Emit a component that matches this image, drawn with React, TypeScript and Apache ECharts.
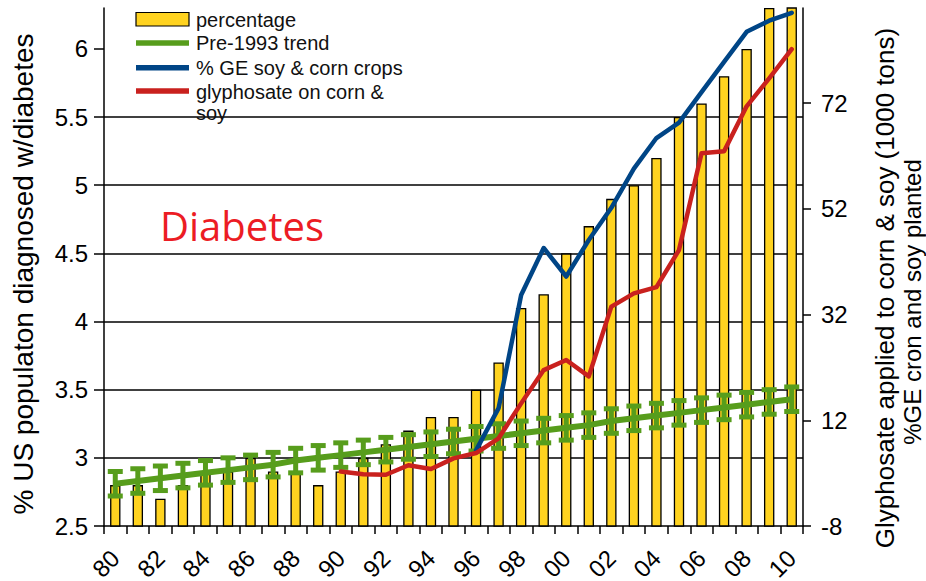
import React, { useEffect, useRef } from 'react';
import * as echarts from 'echarts';

const years = [
  '1980', '1981', '1982', '1983', '1984', '1985', '1986', '1987', '1988', '1989',
  '1990', '1991', '1992', '1993', '1994', '1995', '1996', '1997', '1998', '1999',
  '2000', '2001', '2002', '2003', '2004', '2005', '2006', '2007', '2008', '2009', '2010',
];

// % US population diagnosed with diabetes (left axis)
const diabetesPct = [
  2.8, 2.8, 2.7, 2.8, 2.9, 2.9, 3.0, 2.9, 2.9, 2.8,
  2.9, 3.0, 3.1, 3.2, 3.3, 3.3, 3.5, 3.7, 4.1, 4.2,
  4.5, 4.7, 4.9, 5.0, 5.2, 5.5, 5.6, 5.8, 6.0, 6.3, 6.5,
];

// Pre-1993 trend (left axis) and its error half-width
const trendPct = [
  2.81, 2.83, 2.85, 2.87, 2.89, 2.91, 2.93, 2.95, 2.98, 3.0,
  3.02, 3.04, 3.06, 3.08, 3.1, 3.12, 3.14, 3.16, 3.18, 3.2,
  3.22, 3.24, 3.27, 3.29, 3.31, 3.33, 3.35, 3.37, 3.39, 3.41, 3.43,
];
const trendErr = 0.09;

// % GE soy & corn crops (right axis), from 1996
const geStartYear = 1996;
const gePct = [6.3, 14.3, 35.7, 44.6, 39.2, 46.1, 52.2, 59.6, 65.4, 68.3, 74.1, 79.8, 85.5, 87.6, 89.1];

// glyphosate on corn & soy, 1000 tons (right axis), from 1990
const glyStartYear = 1990;
const glyphosate = [2.3, 1.8, 1.7, 3.5, 2.8, 4.8, 5.8, 8.6, 15.2, 21.5, 23.4, 20.3, 33.5, 36.0, 37.2, 44.2, 62.5, 62.9, 71.4, 76.7, 82.2];

const leftTicks = [2.5, 3, 3.5, 4, 4.5, 5, 5.5, 6];
const rightTicks = [-8, 12, 32, 52, 72];

const FONT = 'Liberation Sans, Arial, sans-serif';
const YELLOW = '#ffd320';
const GREEN = '#579d1c';
const BLUE = '#004586';
const RED = '#c9211e';

function alignFrom(start: number, vals: number[]) {
  return years.map((y) => {
    const k = Number(y) - start;
    return k >= 0 && k < vals.length ? vals[k] : null;
  });
}

export default function App() {
  const ref = useRef<HTMLDivElement>(null);

  useEffect(() => {
    document.body.style.margin = '0';
    if (!ref.current) return;
    const chart = echarts.init(ref.current, undefined, { renderer: 'svg' });

    const option: any = {
      animation: false,
      backgroundColor: '#ffffff',
      grid: { left: 104, right: 123, top: 8, bottom: 55, containLabel: false, outerBoundsMode: 'none' },
      xAxis: {
        type: 'category',
        data: years,
        boundaryGap: true,
        axisLine: { show: true, onZero: false, lineStyle: { color: '#000', width: 1.5 } },
        axisTick: { show: true, interval: 0, alignWithLabel: false, length: 8, lineStyle: { color: '#000', width: 1.5 } },
        axisLabel: {
          interval: 1,
          rotate: 45,
          margin: 28,
          fontSize: 24,
          fontFamily: FONT,
          color: '#000',
          hideOverlap: false,
          formatter: (v: string) => v.slice(2),
        },
        splitLine: { show: false },
      },
      yAxis: [
        {
          type: 'value',
          min: 2.5,
          max: 6.3,
          interval: 0.5,
          position: 'left',
          axisLine: { show: true, onZero: false, lineStyle: { color: '#000', width: 1.5 } },
          axisTick: { show: true, length: 10, customValues: leftTicks, lineStyle: { color: '#000', width: 1.5 } },
          axisLabel: { customValues: leftTicks, fontSize: 24, fontFamily: FONT, color: '#000', margin: 16 },
          splitLine: { show: true, showMaxLine: false, showMinLine: false, lineStyle: { color: '#000', width: 1.5 } },
        },
        {
          type: 'value',
          min: -8,
          max: 90,
          interval: 20,
          position: 'right',
          axisLine: { show: true, onZero: false, lineStyle: { color: '#000', width: 1.5 } },
          axisTick: { show: true, length: 8, customValues: rightTicks, lineStyle: { color: '#000', width: 1.5 } },
          axisLabel: { customValues: rightTicks, fontSize: 24, fontFamily: FONT, color: '#000', margin: 18 },
          splitLine: { show: false },
        },
      ],
      series: [
        {
          name: 'percentage',
          type: 'bar',
          yAxisIndex: 0,
          data: diabetesPct,
          barWidth: '46%',
          clip: true,
          itemStyle: { color: YELLOW, borderColor: '#000', borderWidth: 1.3 },
          z: 2,
        },
        {
          name: 'Pre-1993 trend',
          type: 'line',
          yAxisIndex: 0,
          data: trendPct,
          symbol: 'none',
          lineStyle: { color: GREEN, width: 6 },
          z: 3,
        },
        {
          name: 'Pre-1993 trend error',
          type: 'custom',
          yAxisIndex: 0,
          data: trendPct.map((v, i) => [i, v - trendErr, v + trendErr]),
          encode: { x: 0, y: [1, 2] },
          z: 4,
          renderItem: (params: any, api: any) => {
            const i = api.value(0);
            const lo = api.coord([i, api.value(1)]);
            const hi = api.coord([i, api.value(2)]);
            const half = 7.5;
            const st = { stroke: GREEN, lineWidth: 5 };
            return {
              type: 'group',
              children: [
                { type: 'line', shape: { x1: lo[0], y1: lo[1], x2: hi[0], y2: hi[1] }, style: st },
                { type: 'line', shape: { x1: lo[0] - half, y1: lo[1], x2: lo[0] + half, y2: lo[1] }, style: st },
                { type: 'line', shape: { x1: hi[0] - half, y1: hi[1], x2: hi[0] + half, y2: hi[1] }, style: st },
              ],
            };
          },
        },
        {
          name: '% GE soy & corn crops',
          type: 'line',
          yAxisIndex: 1,
          data: alignFrom(geStartYear, gePct),
          symbol: 'none',
          connectNulls: false,
          lineStyle: { color: BLUE, width: 4.5, cap: 'round', join: 'round' },
          z: 5,
        },
        {
          name: 'glyphosate on corn & soy',
          type: 'line',
          yAxisIndex: 1,
          data: alignFrom(glyStartYear, glyphosate),
          symbol: 'none',
          connectNulls: false,
          lineStyle: { color: RED, width: 4.5, cap: 'round', join: 'round' },
          z: 6,
        },
      ],
      graphic: [
        // left axis title
        { type: 'text', x: 23, y: 274, rotation: Math.PI / 2, style: { text: '% US populaton diagnosed w/diabetes', font: `28px ${FONT}`, fill: '#000', align: 'center', verticalAlign: 'middle' }, z: 10 },
        // legend
        { type: 'rect', shape: { x: 136, y: 12.5, width: 53, height: 13.5 }, style: { fill: YELLOW, stroke: '#000', lineWidth: 1.2 }, z: 10 },
        { type: 'line', shape: { x1: 136, y1: 43, x2: 189, y2: 43 }, style: { stroke: GREEN, lineWidth: 5.5 }, z: 10 },
        { type: 'line', shape: { x1: 136, y1: 67.7, x2: 189, y2: 67.7 }, style: { stroke: BLUE, lineWidth: 5.5 }, z: 10 },
        { type: 'line', shape: { x1: 136, y1: 91, x2: 189, y2: 91 }, style: { stroke: RED, lineWidth: 5.5 }, z: 10 },
        { type: 'text', x: 196, y: 20, style: { text: 'percentage', font: `20px ${FONT}`, fill: '#111', verticalAlign: 'middle' }, z: 10 },
        { type: 'text', x: 196, y: 43, style: { text: 'Pre-1993 trend', font: `20px ${FONT}`, fill: '#111', verticalAlign: 'middle' }, z: 10 },
        { type: 'text', x: 196, y: 68, style: { text: '% GE soy & corn crops', font: `20px ${FONT}`, fill: '#111', verticalAlign: 'middle' }, z: 10 },
        { type: 'text', x: 196, y: 81, style: { text: 'glyphosate on corn &\nsoy', font: `20px ${FONT}`, lineHeight: 21, fill: '#111', verticalAlign: 'top' }, z: 10 },
        // annotation
        { type: 'text', x: 160, y: 225, style: { text: 'Diabetes', font: `40px "Open Sans", sans-serif`, fill: '#ec1c24', verticalAlign: 'middle' }, z: 10 },
        // right axis titles
        { type: 'text', x: 885, y: 288, rotation: Math.PI / 2, style: { text: 'Glyphosate applied to corn & soy (1000 tons)', font: `26px ${FONT}`, fill: '#000', align: 'center', verticalAlign: 'middle' }, z: 10 },
        { type: 'text', x: 912, y: 302, rotation: Math.PI / 2, style: { text: '%GE cron and soy planted', font: `24px ${FONT}`, fill: '#000', align: 'center', verticalAlign: 'middle' }, z: 10 },
      ],
    };

    chart.setOption(option);
    return () => chart.dispose();
  }, []);

  return <div ref={ref} style={{ width: 926, height: 581, position: 'absolute', left: 0, top: 0 }} />;
}
